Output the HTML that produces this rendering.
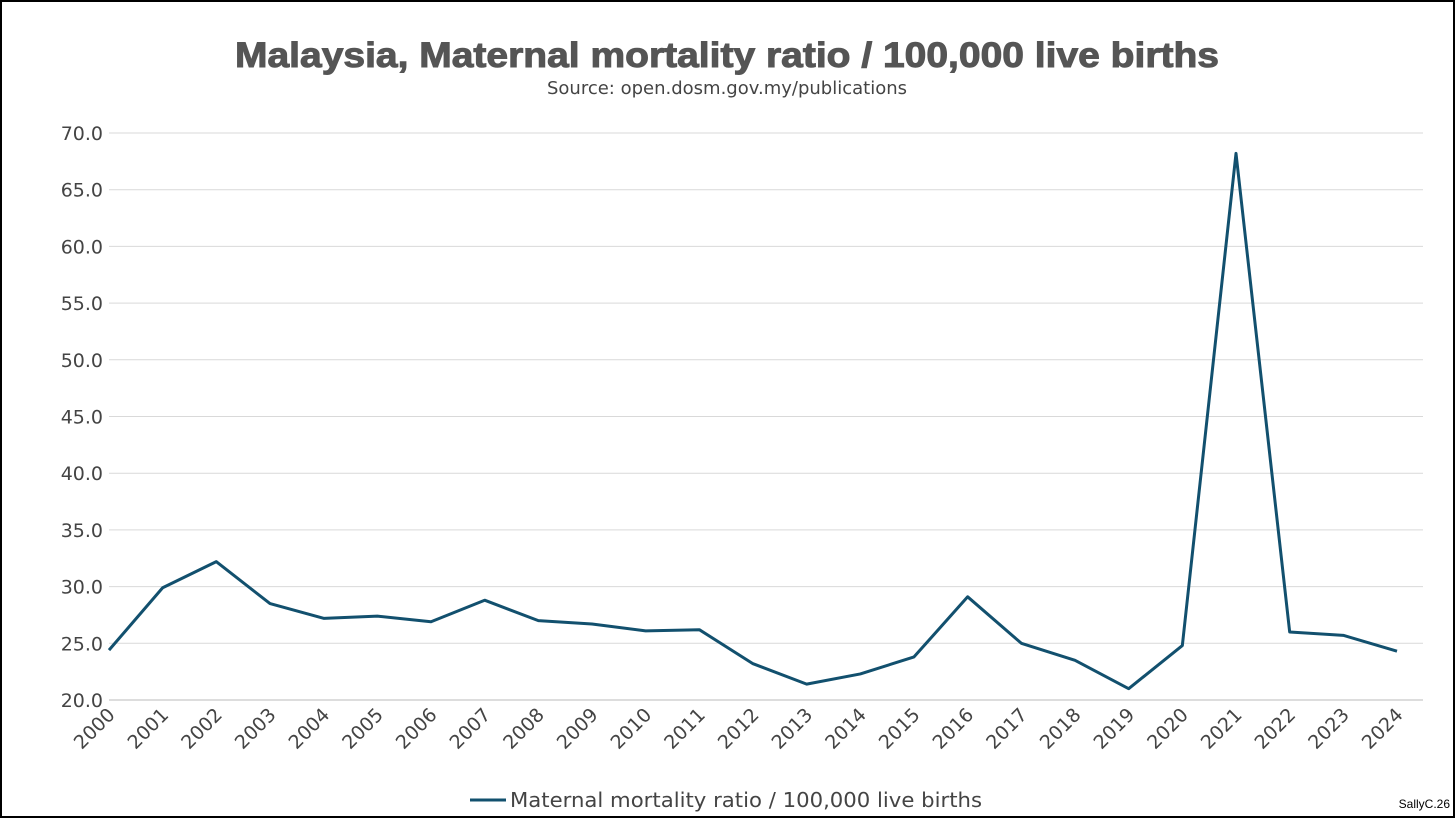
<!DOCTYPE html>
<html><head><meta charset="utf-8"><style>
html,body{margin:0;padding:0;background:#fff;}
svg{display:block;}
</style></head><body>
<svg id="chart" width="1456" height="819" xmlns="http://www.w3.org/2000/svg">
<rect x="1" y="1" width="1453" height="816" fill="#fff" stroke="#000" stroke-width="2"/>
<text x="727" y="67" text-anchor="middle" textLength="984" lengthAdjust="spacingAndGlyphs" font-family="Liberation Sans, sans-serif" font-weight="bold" font-size="35" fill="#555" stroke="#555" stroke-width="1">Malaysia, Maternal mortality ratio / 100,000 live births</text>
<text x="727" y="94" text-anchor="middle" font-family="DejaVu Sans, sans-serif" font-size="18" fill="#444">Source: open.dosm.gov.my/publications</text>
<g id="grid"></g><g id="yticks"></g><g id="xticks"></g><g id="series"></g>
<line x1="470" y1="800" x2="506" y2="800" stroke="#12506e" stroke-width="3"/>
<text x="510" y="807" textLength="472" lengthAdjust="spacingAndGlyphs" font-family="DejaVu Sans, sans-serif" font-size="20" fill="#444">Maternal mortality ratio / 100,000 live births</text>
<text x="1450" y="808" text-anchor="end" font-family="Liberation Sans, sans-serif" font-size="12" fill="#000">SallyC.26</text>
</svg>
<script>
const years = ["2000","2001","2002","2003","2004","2005","2006","2007","2008","2009","2010","2011","2012","2013","2014","2015","2016","2017","2018","2019","2020","2021","2022","2023","2024"];
const values = [24.4,29.9,32.2,28.5,27.2,27.4,26.9,28.8,27.0,26.7,26.1,26.2,23.2,21.4,22.3,23.8,29.1,25.0,23.5,21.0,24.8,68.2,26.0,25.7,24.3];
const yTicks = [20,25,30,35,40,45,50,55,60,65,70];
const NS="http://www.w3.org/2000/svg";
const yMin=20,yMax=70,yBot=700,yTop=133,x0=109,x1=1397;
const ys=v=>yBot-(v-yMin)/(yMax-yMin)*(yBot-yTop);
const xs=i=>x0+i*(x1-x0)/(years.length-1);
function mk(t,a,p){const e=document.createElementNS(NS,t);for(const k in a)e.setAttribute(k,a[k]);p.appendChild(e);return e;}
const g=document.getElementById('grid'),yt=document.getElementById('yticks'),xt=document.getElementById('xticks'),sg=document.getElementById('series');
yTicks.forEach(v=>{
 const l=mk('line',{x1:109,x2:1423,y1:ys(v),y2:ys(v),stroke:v===yMin?'#bbb':'#d9d9d9','stroke-width':1},g);
 
 
 const t=mk('text',{x:103,y:ys(v)+7,'text-anchor':'end','font-family':'DejaVu Sans, sans-serif','font-size':19,fill:'#444'},yt);
 t.textContent=v.toFixed(1);
 
 
});
years.forEach((y,i)=>{
 const x=xs(i)+7,yy=716;
 const t=mk('text',{x:x,y:yy,'text-anchor':'end','font-family':'DejaVu Sans, sans-serif','font-size':19,fill:'#444',transform:`rotate(-45 ${x} ${yy})`},xt);
 t.textContent=y;
 
 
});
const p=mk('polyline',{points:values.map((v,i)=>xs(i)+','+ys(v)).join(' '),fill:'none',stroke:'#12506e','stroke-width':3,'stroke-linejoin':'round'},sg);


</script>
</body></html>
